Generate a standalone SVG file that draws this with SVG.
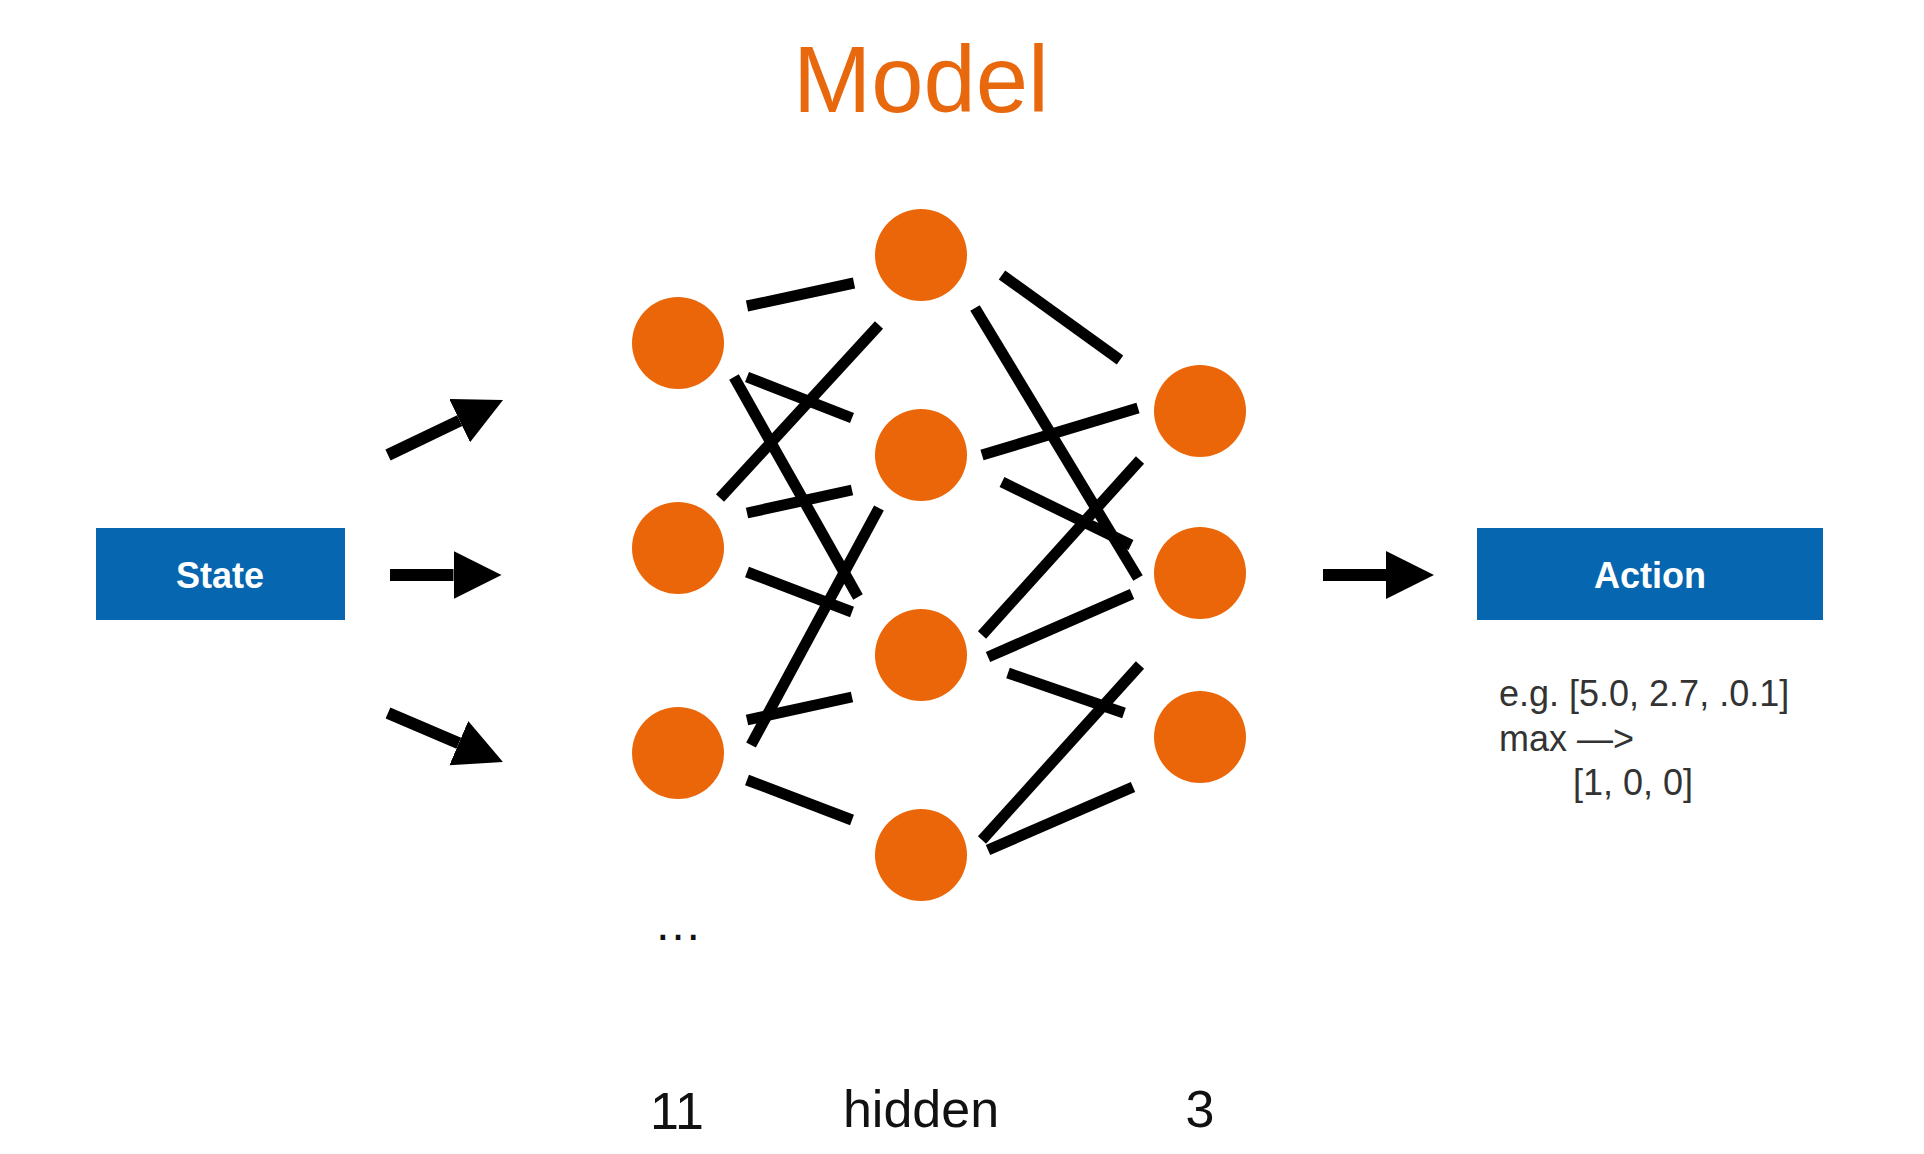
<svg xmlns="http://www.w3.org/2000/svg" width="1924" height="1154" viewBox="0 0 1924 1154">
<style>
  .node circle { fill: #EB6608; }
  .box rect { fill: #0666B0; }
  .boxlabel { font-family: "Liberation Sans", Arial, sans-serif; font-size: 36px; font-weight: bold; fill: #FFFFFF; text-anchor: middle; }
  .edge { stroke: #000; stroke-width: 11; stroke-linecap: butt; fill: none; }
  .arrow { stroke: #000; stroke-width: 12; stroke-linecap: butt; fill: none; marker-end: url(#head); }
  .title { font-family: "Liberation Sans", Arial, sans-serif; font-size: 94px; fill: #E8680E; text-anchor: middle; }
  .layer { font-family: "Liberation Sans", Arial, sans-serif; font-size: 52px; fill: #111; text-anchor: middle; }
  .dots { font-family: "Liberation Sans", Arial, sans-serif; font-size: 48px; fill: #111; text-anchor: middle; }
  .note { font-family: "Liberation Sans", Arial, sans-serif; font-size: 36px; fill: #333; }
</style>
<defs>
  <marker id="head" markerUnits="userSpaceOnUse" markerWidth="50" markerHeight="50" refX="0" refY="24" orient="auto">
    <path d="M0,0 L48,24 L0,48 Z" fill="#000"/>
  </marker>
</defs>
<rect width="1924" height="1154" fill="#FFFFFF"/>

<text class="title" x="921" y="112">Model</text>

<g id="state" class="box">
  <rect x="96" y="528" width="249" height="92"/>
  <text class="boxlabel" x="220" y="588">State</text>
</g>
<g id="action" class="box">
  <rect x="1477" y="528" width="346" height="92"/>
  <text class="boxlabel" x="1650" y="588">Action</text>
</g>

<g id="connectors">
  <!-- state arrows -->
  <line class="arrow" x1="388" y1="455" x2="459.7" y2="420.7"/>
  <line class="arrow" x1="390" y1="575" x2="453.5" y2="575"/>
  <line class="arrow" x1="388" y1="713" x2="458.8" y2="743.2"/>
  <line class="arrow" x1="1323" y1="575" x2="1386" y2="575"/>
  <!-- input -> hidden -->
  <line class="edge" x1="747" y1="306" x2="854" y2="283"/>
  <line class="edge" x1="747" y1="377" x2="852" y2="418"/>
  <line class="edge" x1="734" y1="377" x2="858" y2="597"/>
  <line class="edge" x1="720" y1="498" x2="879" y2="325"/>
  <line class="edge" x1="747" y1="513" x2="852" y2="490"/>
  <line class="edge" x1="747" y1="572" x2="852" y2="612"/>
  <line class="edge" x1="879" y1="508" x2="751" y2="745"/>
  <line class="edge" x1="747" y1="720" x2="852" y2="697"/>
  <line class="edge" x1="747" y1="780" x2="852" y2="820"/>
  <!-- hidden -> output -->
  <line class="edge" x1="1002" y1="275" x2="1120" y2="360"/>
  <line class="edge" x1="975" y1="308" x2="1138" y2="578"/>
  <line class="edge" x1="982" y1="455" x2="1138" y2="408"/>
  <line class="edge" x1="1002" y1="482" x2="1131" y2="545"/>
  <line class="edge" x1="982" y1="635" x2="1140" y2="460"/>
  <line class="edge" x1="988" y1="657" x2="1132" y2="594"/>
  <line class="edge" x1="1008" y1="673" x2="1124" y2="713"/>
  <line class="edge" x1="982" y1="840" x2="1140" y2="665"/>
  <line class="edge" x1="988" y1="850" x2="1133" y2="787"/>
</g>

<g id="in1" class="node"><circle cx="678" cy="343" r="46"/></g>
<g id="in2" class="node"><circle cx="678" cy="548" r="46"/></g>
<g id="in3" class="node"><circle cx="678" cy="753" r="46"/></g>
<g id="h1" class="node"><circle cx="921" cy="255" r="46"/></g>
<g id="h2" class="node"><circle cx="921" cy="455" r="46"/></g>
<g id="h3" class="node"><circle cx="921" cy="655" r="46"/></g>
<g id="h4" class="node"><circle cx="921" cy="855" r="46"/></g>
<g id="out1" class="node"><circle cx="1200" cy="411" r="46"/></g>
<g id="out2" class="node"><circle cx="1200" cy="573" r="46"/></g>
<g id="out3" class="node"><circle cx="1200" cy="737" r="46"/></g>

<text class="dots" x="678" y="940">…</text>
<text class="layer" x="677" y="1129">11</text>
<text class="layer" x="921" y="1127">hidden</text>
<text class="layer" x="1200" y="1127">3</text>

<g id="note">
  <text class="note" x="1499" y="706">e.g. [5.0, 2.7, .0.1]</text>
  <text class="note" x="1499" y="751">max —&gt;</text>
  <text class="note" x="1573" y="795">[1, 0, 0]</text>
</g>
</svg>
